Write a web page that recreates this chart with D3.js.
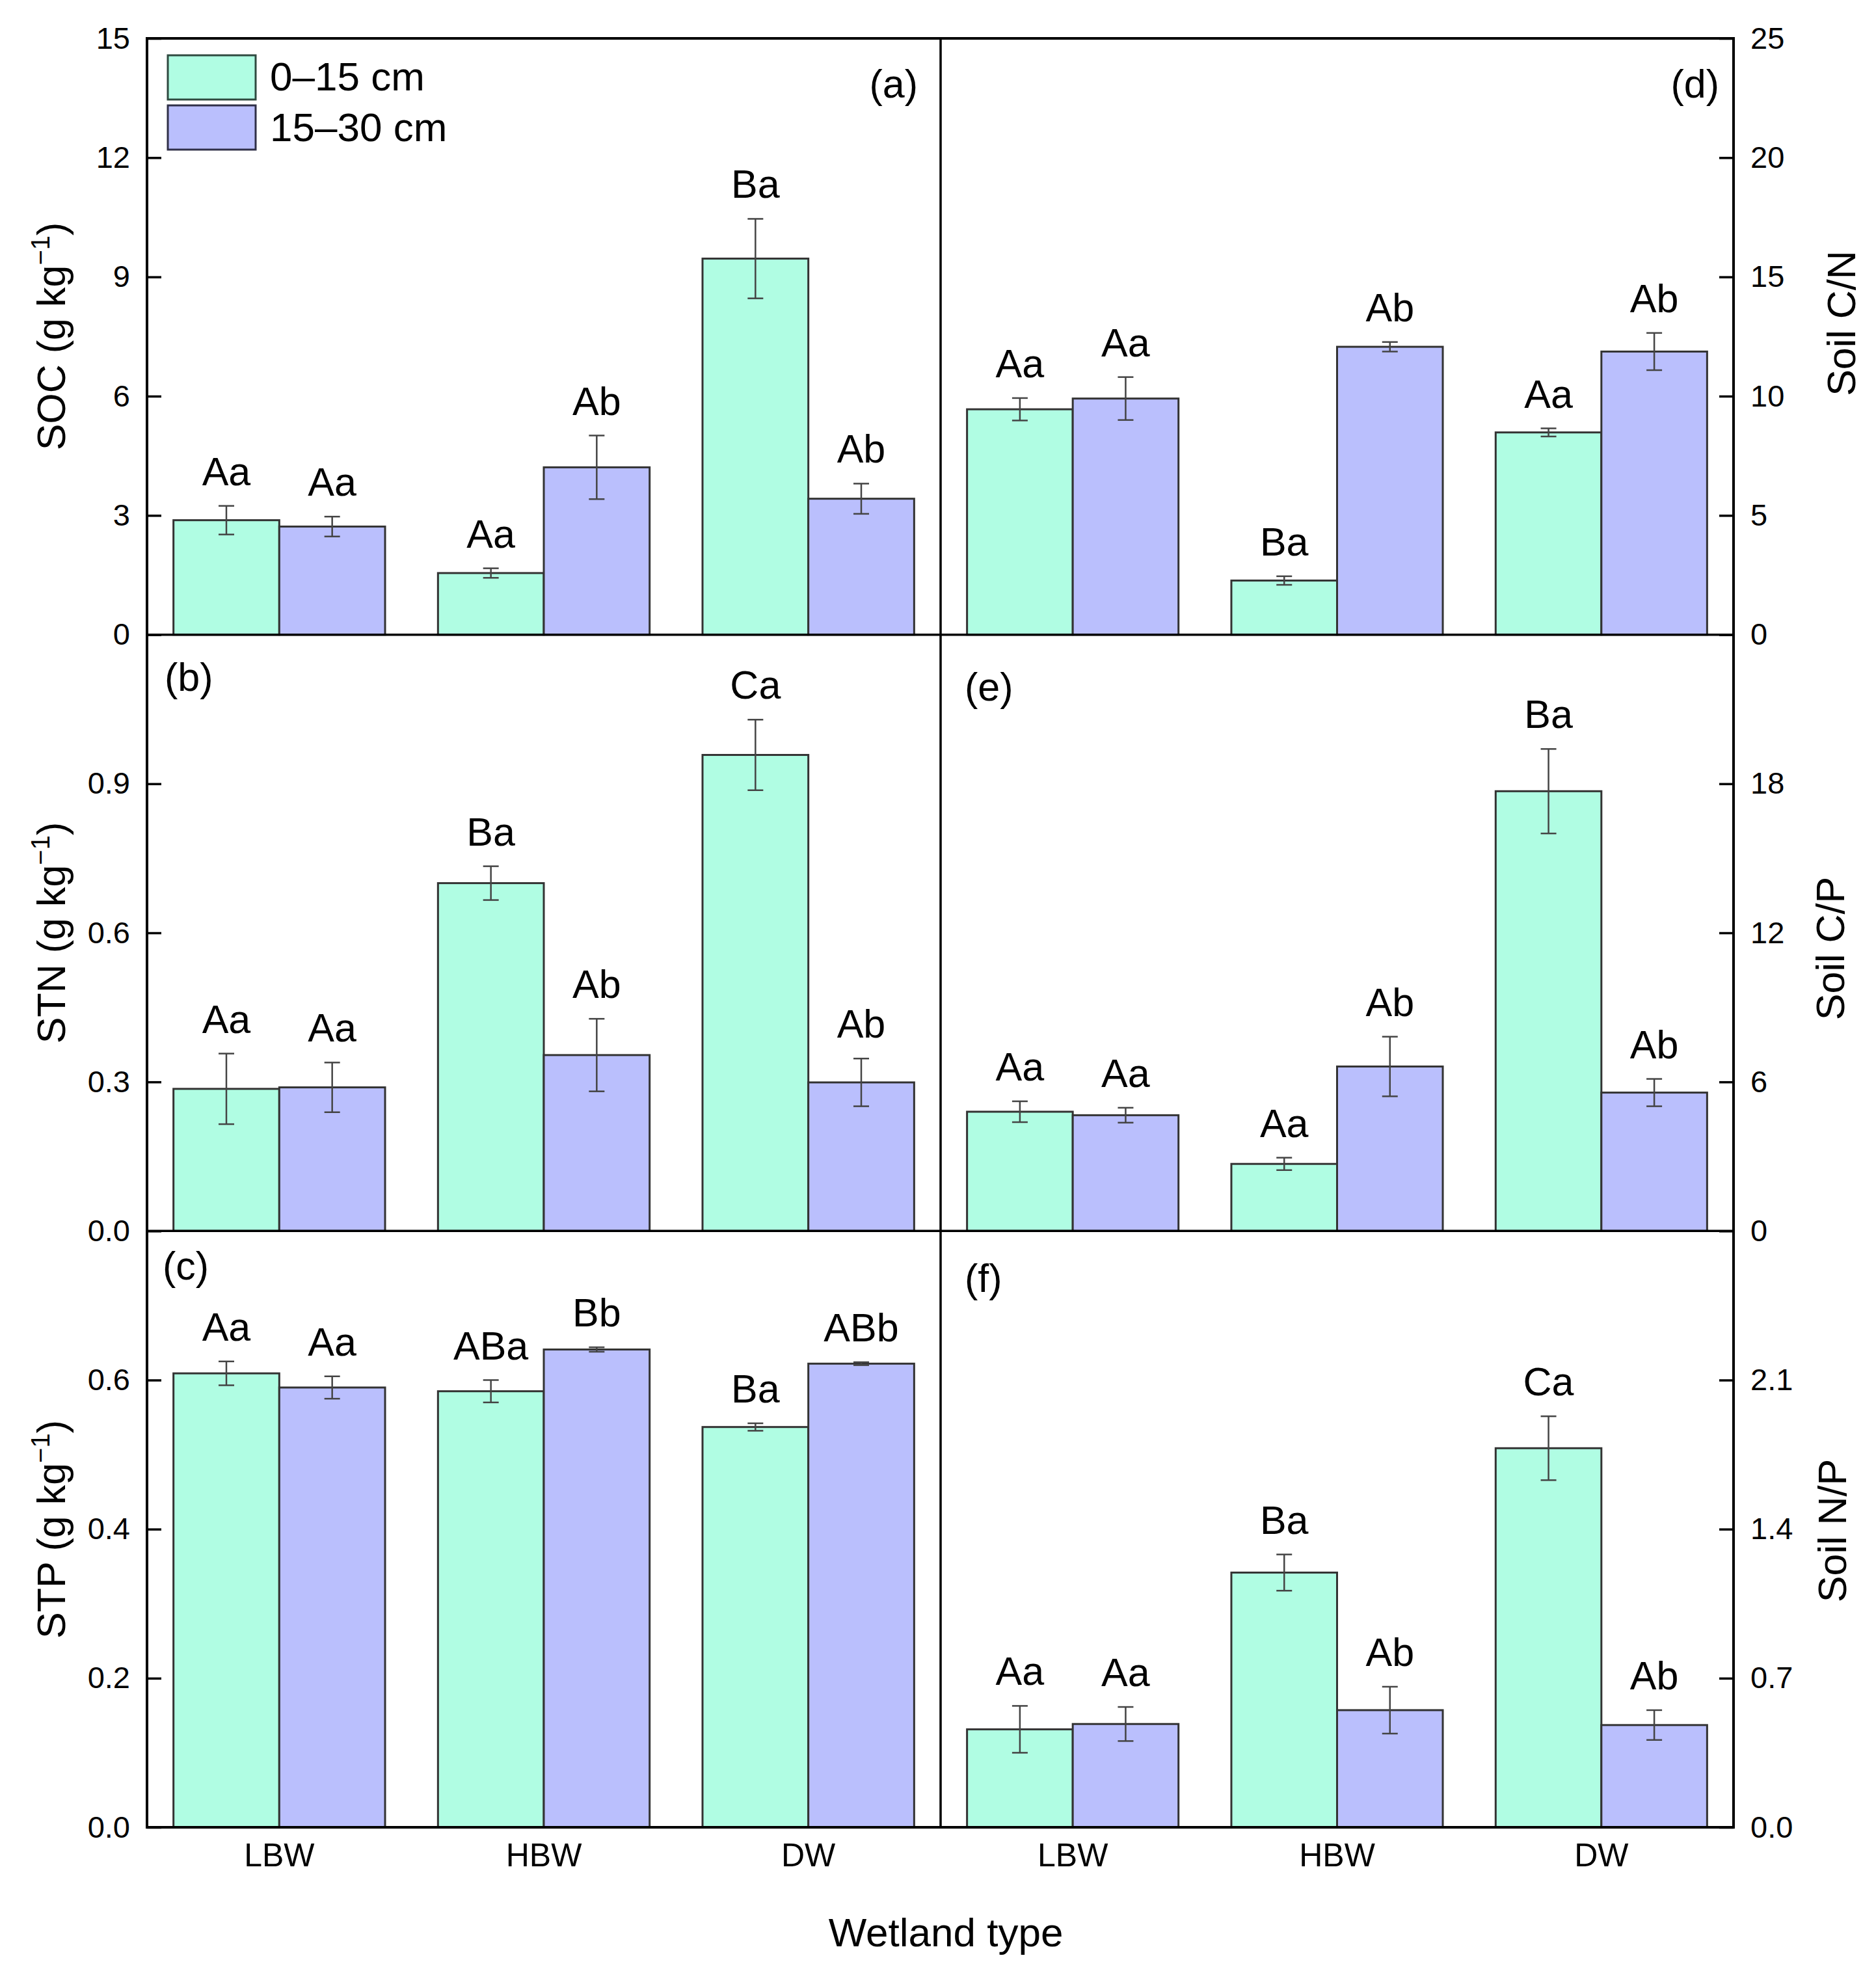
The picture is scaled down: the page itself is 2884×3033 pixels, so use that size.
<!DOCTYPE html>
<html lang="en">
<head>
  <meta charset="UTF-8">
  <title>Soil C, N, P by wetland type</title>
  <script src="https://d3js.org/d3.v7.min.js"></script>
  <style>
    body { margin: 0; background: #fff; }
    text { font-family: Arial, "Liberation Sans", sans-serif; fill: #000; }
  </style>
</head>
<body>
  <script>
    // 1. Data
    const groups = ["LBW", "HBW", "DW"];
    const depths = ["0–15 cm", "15–30 cm"];

    // [0–15 cm, 15–30 cm] for each wetland type
    const soc    = [[2.88, 2.72], [1.55, 4.21], [9.46, 3.42]];
    const socErr = [[0.36, 0.25], [0.12, 0.80], [1.00, 0.38]];
    const socSig = [["Aa", "Aa"], ["Aa", "Ab"], ["Ba", "Ab"]];

    const stn    = [[0.286, 0.289], [0.700, 0.354], [0.958, 0.299]];
    const stnErr = [[0.071, 0.050], [0.034, 0.073], [0.071, 0.048]];
    const stnSig = [["Aa", "Aa"], ["Ba", "Ab"], ["Ca", "Ab"]];

    const stp    = [[0.609, 0.590], [0.585, 0.641], [0.537, 0.622]];
    const stpErr = [[0.016, 0.015], [0.015, 0.003], [0.005, 0.002]];
    const stpSig = [["Aa", "Aa"], ["ABa", "Bb"], ["Ba", "ABb"]];

    const cn     = [[9.45, 9.90], [2.27, 12.07], [8.48, 11.87]];
    const cnErr  = [[0.47, 0.90], [0.18, 0.20], [0.17, 0.78]];
    const cnSig  = [["Aa", "Aa"], ["Ba", "Ab"], ["Aa", "Ab"]];

    const cp     = [[4.80, 4.66], [2.70, 6.62], [17.70, 5.57]];
    const cpErr  = [[0.42, 0.30], [0.25, 1.20], [1.70, 0.55]];
    const cpSig  = [["Aa", "Aa"], ["Aa", "Ab"], ["Ba", "Ab"]];

    const np     = [[0.46, 0.485], [1.196, 0.55], [1.78, 0.48]];
    const npErr  = [[0.11, 0.08], [0.085, 0.11], [0.15, 0.07]];
    const npSig  = [["Aa", "Aa"], ["Ba", "Ab"], ["Ca", "Ab"]];

    // tick values
    const socTicks = [0, 3, 6, 9, 12, 15];
    const stnTicks = [0, 0.3, 0.6, 0.9];
    const stpTicks = [0, 0.2, 0.4, 0.6];
    const cnTicks  = [0, 5, 10, 15, 20, 25];
    const cpTicks  = [0, 6, 12, 18];
    const npTicks  = [0, 0.7, 1.4, 2.1];

    // 2. SVG Canvas
    const width = 2884, height = 3033;
    const plotLeft = 226, plotMid = 1446, plotRight = 2665;
    const plotTop = 59, plotBottom = 2809;
    const rowH = (plotBottom - plotTop) / 3;
    const colors = ["#b0fde3", "#babffd"];

    const svg = d3.select("body")
                  .append("svg")
                  .attr("width", width)
                  .attr("height", height);

    const panels = [
      { tag: "(a)", col: 0, row: 0, mean: soc, err: socErr, sig: socSig, ticks: socTicks, max: 15,  fmt: d3.format("d"),
        title: ["SOC (g kg", "−1", ")"], titleX: 100, titleY: 517,
        tagX: 1411, tagY: 150, tagAnchor: "end" },
      { tag: "(b)", col: 0, row: 1, mean: stn, err: stnErr, sig: stnSig, ticks: stnTicks, max: 1.2, fmt: d3.format(".1f"),
        title: ["STN (g kg", "−1", ")"], titleX: 100, titleY: 1434,
        tagX: 253, tagY: 1062, tagAnchor: "start" },
      { tag: "(c)", col: 0, row: 2, mean: stp, err: stpErr, sig: stpSig, ticks: stpTicks, max: 0.8, fmt: d3.format(".1f"),
        title: ["STP (g kg", "−1", ")"], titleX: 100, titleY: 2351,
        tagX: 250, tagY: 1967, tagAnchor: "start" },
      { tag: "(d)", col: 1, row: 0, mean: cn, err: cnErr, sig: cnSig, ticks: cnTicks, max: 25, fmt: d3.format("d"),
        title: ["Soil C/N"], titleX: 2852, titleY: 497,
        tagX: 2643, tagY: 150, tagAnchor: "end" },
      { tag: "(e)", col: 1, row: 1, mean: cp, err: cpErr, sig: cpSig, ticks: cpTicks, max: 24, fmt: d3.format("d"),
        title: ["Soil C/P"], titleX: 2835, titleY: 1458,
        tagX: 1483, tagY: 1077, tagAnchor: "start" },
      { tag: "(f)", col: 1, row: 2, mean: np, err: npErr, sig: npSig, ticks: npTicks, max: 2.8, fmt: d3.format(".1f"),
        title: ["Soil N/P"], titleX: 2838, titleY: 2353,
        tagX: 1483, tagY: 1986, tagAnchor: "start" }
    ];

    // 3. Panels
    panels.forEach(p => {
      const x0 = p.col === 0 ? plotLeft : plotMid;
      const x1 = p.col === 0 ? plotMid : plotRight;
      const y0 = plotTop + p.row * rowH;
      const y1 = y0 + rowH;

      const xScale = d3.scaleBand()
                       .domain(groups)
                       .range([x0, x1])
                       .paddingInner(0.2)
                       .paddingOuter(0.1);
      const xSub = d3.scaleBand()
                     .domain(depths)
                     .range([0, xScale.bandwidth()]);
      const yScale = d3.scaleLinear()
                       .domain([0, p.max])
                       .range([y1, y0]);

      const g = svg.append("g");

      const rows = groups.flatMap((grp, i) => depths.map((dep, j) => ({
        grp, dep, j,
        v: p.mean[i][j], e: p.err[i][j], s: p.sig[i][j]
      })));

      // bars
      g.selectAll("rect.bar")
       .data(rows)
       .join("rect")
       .attr("class", "bar")
       .attr("x", d => xScale(d.grp) + xSub(d.dep))
       .attr("y", d => yScale(d.v))
       .attr("width", xSub.bandwidth())
       .attr("height", d => yScale(0) - yScale(d.v))
       .attr("fill", d => colors[d.j])
       .attr("stroke", "#333")
       .attr("stroke-width", 3);

      // error bars
      const cx = d => xScale(d.grp) + xSub(d.dep) + xSub.bandwidth() / 2;
      const eb = g.selectAll("g.err")
                  .data(rows)
                  .join("g")
                  .attr("class", "err")
                  .attr("stroke", "#444")
                  .attr("stroke-width", 2.5);
      eb.append("line")
        .attr("x1", cx).attr("x2", cx)
        .attr("y1", d => yScale(d.v + d.e))
        .attr("y2", d => yScale(d.v - d.e));
      [1, -1].forEach(sgn => {
        eb.append("line")
          .attr("x1", d => cx(d) - 12).attr("x2", d => cx(d) + 12)
          .attr("y1", d => yScale(d.v + sgn * d.e))
          .attr("y2", d => yScale(d.v + sgn * d.e));
      });

      // significance letters
      g.selectAll("text.sig")
       .data(rows)
       .join("text")
       .attr("class", "sig")
       .attr("x", cx)
       .attr("y", d => yScale(d.v + d.e) - 32)
       .attr("text-anchor", "middle")
       .attr("font-size", 61)
       .text(d => d.s);

      // y axis (inward ticks)
      const axis = (p.col === 0 ? d3.axisLeft(yScale) : d3.axisRight(yScale))
                     .tickValues(p.ticks)
                     .tickFormat(p.fmt)
                     .tickSizeInner(-22)
                     .tickSizeOuter(0)
                     .tickPadding(26);
      const ax = svg.append("g")
                    .attr("transform", `translate(${p.col === 0 ? x0 : x1},0)`)
                    .call(axis);
      ax.select(".domain").remove();
      ax.selectAll(".tick line").attr("stroke", "#000").attr("stroke-width", 3.5);
      ax.selectAll(".tick text")
        .attr("font-size", 47)
        .attr("font-family", "Arial, 'Liberation Sans', sans-serif");

      // x labels on the bottom row
      if (p.row === 2) {
        const xa = svg.append("g")
                      .attr("transform", `translate(0,${y1})`)
                      .call(d3.axisBottom(xScale).tickSize(0).tickPadding(24));
        xa.select(".domain").remove();
        xa.selectAll(".tick text")
          .attr("font-size", 50)
          .attr("font-family", "Arial, 'Liberation Sans', sans-serif");
      }

      // axis title
      const t = svg.append("text")
                   .attr("transform", `translate(${p.titleX},${p.titleY}) rotate(-90)`)
                   .attr("text-anchor", "middle")
                   .attr("font-size", 61);
      t.append("tspan").text(p.title[0]);
      if (p.title.length > 1) {
        t.append("tspan").attr("dy", -24).attr("font-size", 40).text(p.title[1]);
        t.append("tspan").attr("dy", 24).text(p.title[2]);
      }

      // panel tag
      svg.append("text")
         .attr("x", p.tagX)
         .attr("y", p.tagY)
         .attr("text-anchor", p.tagAnchor)
         .attr("font-size", 61)
         .text(p.tag);
    });

    // 4. Frame
    const frame = svg.append("g").attr("stroke", "#000").attr("fill", "none");
    frame.append("rect")
         .attr("x", plotLeft).attr("y", plotTop)
         .attr("width", plotRight - plotLeft).attr("height", plotBottom - plotTop)
         .attr("stroke-width", 4);
    frame.append("line")
         .attr("x1", plotMid).attr("x2", plotMid)
         .attr("y1", plotTop).attr("y2", plotBottom)
         .attr("stroke-width", 3.5);
    [1, 2].forEach(r => {
      frame.append("line")
           .attr("x1", plotLeft).attr("x2", plotRight)
           .attr("y1", plotTop + r * rowH).attr("y2", plotTop + r * rowH)
           .attr("stroke-width", 3.5);
    });

    // 5. Legend
    const legend = svg.append("g");
    depths.forEach((dep, j) => {
      legend.append("rect")
            .attr("x", 258).attr("y", 85 + j * 77)
            .attr("width", 135).attr("height", 68)
            .attr("fill", colors[j])
            .attr("stroke", j === 0 ? "#2f4a40" : "#303048")
            .attr("stroke-width", 3);
      legend.append("text")
            .attr("x", 415).attr("y", 139 + j * 78)
            .attr("font-size", 62)
            .text(dep);
    });

    // 6. X axis title
    svg.append("text")
       .attr("x", 1454)
       .attr("y", 2992)
       .attr("text-anchor", "middle")
       .attr("font-size", 62)
       .text("Wetland type");
  </script>
</body>
</html>
